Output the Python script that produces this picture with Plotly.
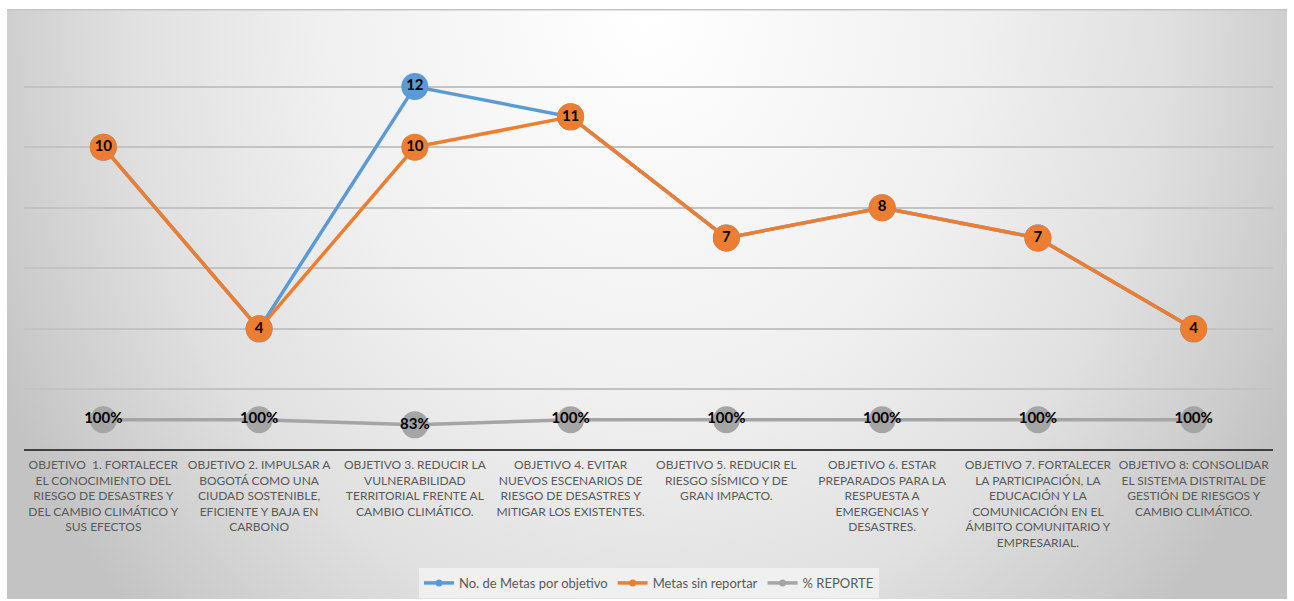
import base64
import plotly.graph_objects as go

categories = [
    "OBJETIVO  1. FORTALECER<br>EL CONOCIMIENTO DEL<br>RIESGO DE DESASTRES Y<br>DEL CAMBIO CLIMÁTICO Y<br>SUS EFECTOS",
    "OBJETIVO 2. IMPULSAR A<br>BOGOTÁ COMO UNA<br>CIUDAD SOSTENIBLE,<br>EFICIENTE Y BAJA EN<br>CARBONO",
    "OBJETIVO 3. REDUCIR LA<br>VULNERABILIDAD<br>TERRITORIAL FRENTE AL<br>CAMBIO CLIMÁTICO.",
    "OBJETIVO 4. EVITAR<br>NUEVOS ESCENARIOS DE<br>RIESGO DE DESASTRES Y<br>MITIGAR LOS EXISTENTES.",
    "OBJETIVO 5. REDUCIR EL<br>RIESGO SÍSMICO Y DE<br>GRAN IMPACTO.",
    "OBJETIVO 6. ESTAR<br>PREPARADOS PARA LA<br>RESPUESTA A<br>EMERGENCIAS Y<br>DESASTRES.",
    "OBJETIVO 7. FORTALECER<br>LA PARTICIPACIÓN, LA<br>EDUCACIÓN Y LA<br>COMUNICACIÓN EN EL<br>ÁMBITO COMUNITARIO Y<br>EMPRESARIAL.",
    "OBJETIVO 8: CONSOLIDAR<br>EL SISTEMA DISTRITAL DE<br>GESTIÓN DE RIESGOS Y<br>CAMBIO CLIMÁTICO.",
]
metas_por_objetivo = [10, 4, 12, 11, 7, 8, 7, 4]
metas_sin_reportar = [10, 4, 10, 11, 7, 8, 7, 4]
pct_reporte = [1.00, 1.00, 0.83, 1.00, 1.00, 1.00, 1.00, 1.00]

series_names = ["No. de Metas por objetivo", "Metas sin reportar", "% REPORTE"]
colors = ["#5B9BD5", "#ED7D31", "#A5A5A5"]

# radial gradient background panel (SVG data URI)
svg = (
    '<svg xmlns="http://www.w3.org/2000/svg" width="1280" height="590" viewBox="0 0 1280 590" preserveAspectRatio="none">'
    '<defs><radialGradient id="g" gradientUnits="userSpaceOnUse" cx="640" cy="0" r="720" '
    'gradientTransform="translate(640,0) scale(1,1.2) translate(-640,0)">'
    '<stop offset="0" stop-color="#ffffff"/>'
    '<stop offset="0.45" stop-color="#f0f0f0"/>'
    '<stop offset="0.72" stop-color="#e0e0e0"/>'
    '<stop offset="0.93" stop-color="#cbcbcb"/>'
    '<stop offset="1" stop-color="#c3c3c3"/>'
    '</radialGradient></defs>'
    '<rect x="0" y="0" width="1280" height="590" fill="url(#g)"/>'
    '<rect x="0" y="0" width="1280" height="1.5" fill="#c4c4c4"/>'
    '</svg>'
)
svg_uri = "data:image/svg+xml;base64," + base64.b64encode(svg.encode()).decode()

font_family = "Lato, 'Open Sans', sans-serif"
label_font = dict(family=font_family, size=15, color="#000000")

series_values = [metas_por_objetivo, metas_sin_reportar, pct_reporte]
series_text = [
    [str(v) for v in metas_por_objetivo],
    [str(v) for v in metas_sin_reportar],
    [f"{round(v*100)}%" for v in pct_reporte],
]

fig = go.Figure()
for name, vals, txt, col in zip(series_names, series_values, series_text, colors):
    fig.add_trace(go.Scatter(
        x=categories, y=vals, name=name, showlegend=False,
        mode="lines+markers+text", text=txt,
        textposition="middle center", texttemplate="<b>%{text}</b>",
        textfont=label_font,
        line=dict(color=col, width=3.5),
        marker=dict(size=27, color=col),
        cliponaxis=False, hoverinfo="x+y+name",
    ))
# legend entries (small markers like the original)
for name, col in zip(series_names, colors):
    fig.add_trace(go.Scatter(
        x=[None], y=[None], name=name, mode="lines+markers",
        line=dict(color=col, width=3.5), marker=dict(size=7, color=col),
        showlegend=True,
    ))

fig.update_layout(
    width=1294, height=601, autosize=False,
    margin=dict(l=24, r=21, t=26, b=151),
    paper_bgcolor="#ffffff",
    plot_bgcolor="rgba(0,0,0,0)",
    showlegend=True,
    legend=dict(
        orientation="h", x=0.5004, xref="paper",
        y=0.030, yref="container", xanchor="center", yanchor="middle",
        bgcolor="rgba(242,242,242,0.85)",
        font=dict(family=font_family, size=13, color="#595959"),
        itemwidth=30,
    ),
    images=[dict(
        source=svg_uri, xref="paper", yref="paper",
        x=-0.0136, y=1.0401, sizex=1.0248, sizey=1.3915,
        xanchor="left", yanchor="top", sizing="stretch", layer="below",
    )],
    xaxis=dict(
        type="category", automargin=False,
        showgrid=False, zeroline=False,
        showline=False, ticks="",
        tickfont=dict(family=font_family, size=12, color="#595959"),
        tickangle=0, ticklabelstandoff=6,
    ),
    yaxis=dict(
        range=[0, 14], dtick=2, tick0=0, automargin=False,
        showticklabels=False, ticks="",
        showgrid=True, gridcolor="#c3c3c3", gridwidth=1.5,
        zeroline=True, zerolinecolor="#404040", zerolinewidth=2,
        showline=False,
    ),
)

fig.write_html(
    "out.html",
    config={"displayModeBar": False, "responsive": False},
    post_script=(
        "var h=document.documentElement, b=document.body;"
        "h.style.margin='0';h.style.padding='0';h.style.overflow='hidden';"
        "b.style.margin='0';b.style.padding='0';b.style.overflow='hidden';"
    ),
)
